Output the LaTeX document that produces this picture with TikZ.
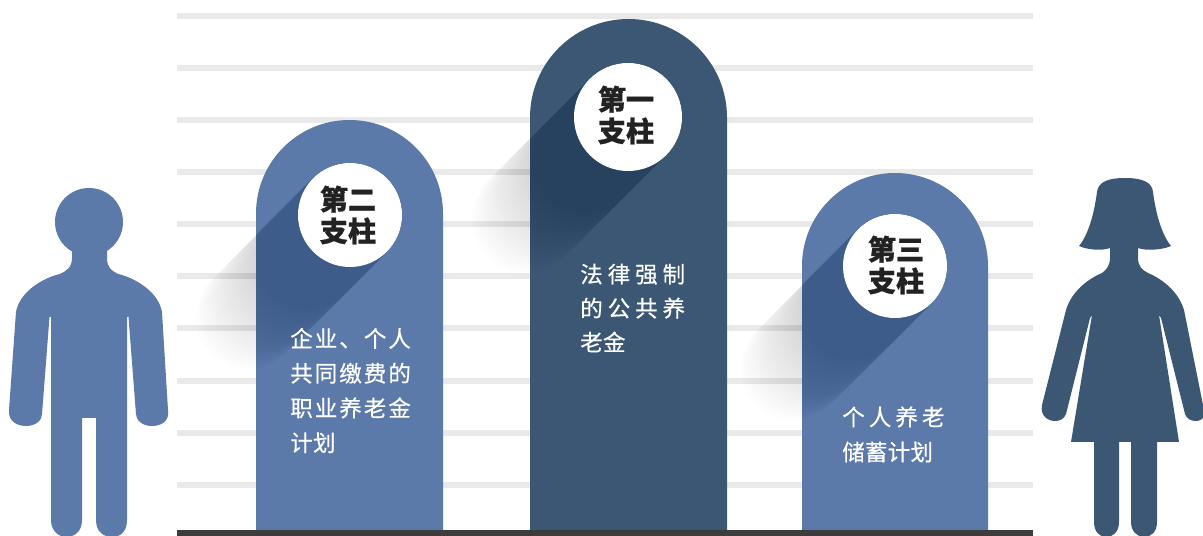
\documentclass[tikz,border=0pt]{standalone}
\usepackage{fontspec}
\setmainfont{Noto Sans CJK SC}[BoldFeatures={FakeBold=0.8}]
\newfontfamily\cjkmid[LetterSpace=9,FakeBold=0.5]{Noto Sans CJK SC}
\newfontfamily\cjkwide[LetterSpace=22,FakeBold=0.5]{Noto Sans CJK SC}
\newfontfamily\cjkwider[LetterSpace=18,FakeBold=0.5]{Noto Sans CJK SC}
\newfontfamily\cjknarrow[LetterSpace=1,FakeBold=0.5]{Noto Sans CJK SC}
\definecolor{barblue}{HTML}{5B79A9}
\definecolor{bardark}{HTML}{3B5773}
\definecolor{ruleline}{HTML}{E9E9E9}
\definecolor{groundline}{HTML}{3C3C3C}
\definecolor{headink}{HTML}{222222}
\definecolor{shadeink}{HTML}{0D2A55}
\tikzset{
  ruled/.style={ruleline, line width=4.6pt},
  titletext/.style={text=headink, align=center, inner sep=0pt, font=\fontsize{20}{22.5}\selectfont\bfseries},
  bodytext/.style={text=white, align=left, anchor=west, inner sep=0pt},
  disc/.style={fill=white},
  softshade/.style={line cap=round, shadeink, opacity=0.016},
}
% pillar outline: centre x, centre y of the arch, radius
\newcommand{\pillarpath}[3]{(#1-#3,536) -- (#1-#3,#2) arc[start angle=180, end angle=360, radius=#3] -- (#1+#3,536) -- cycle}
\begin{document}
\begin{tikzpicture}[x=0.025cm, y=-0.025cm]
  \useasboundingbox (0,0) rectangle (1203,536);
  \fill[white] (0,0) rectangle (1203,536);
  % rules
  \foreach \ypos in {16,68,120,172,224,276,328,381,433,485}
    \draw[ruled] (177,\ypos) -- (1033,\ypos);
  % long shadows under the pillars
  \foreach \cx/\cy/\rad in {350/215/52, 628/117/54, 895/266/52}
    \foreach \len in {42,45,...,104}
      \draw[black, opacity=0.009, line cap=round, line width=\rad*1.4226pt]
        (\cx,\cy) -- ++(-\len,\len);
  % pillars
  \fill[barblue] \pillarpath{349.5}{213.5}{93.5};
  \fill[bardark] \pillarpath{628.5}{117.5}{98.5};
  \fill[barblue] \pillarpath{895}{266}{93};
  \begin{scope}
    \clip \pillarpath{349.5}{213.5}{93.5};
    \foreach \len in {42,45,...,102}
      \draw[softshade, line width=52*1.4226pt] (350,215) -- ++(-\len,\len);
  \end{scope}
  \begin{scope}
    \clip \pillarpath{628.5}{117.5}{98.5};
    \foreach \len in {42,45,...,102}
      \draw[softshade, line width=54*1.4226pt] (628,117) -- ++(-\len,\len);
  \end{scope}
  \begin{scope}
    \clip \pillarpath{895}{266}{93};
    \foreach \len in {42,45,...,102}
      \draw[softshade, line width=52*1.4226pt] (895,266) -- ++(-\len,\len);
  \end{scope}
  % ground line
  \fill[groundline] (177,530) rectangle (1033,536);
  % discs
  \fill[disc] (350,215) circle[radius=52];
  \fill[disc] (628,117) circle[radius=54];
  \fill[disc] (895,266) circle[radius=52];
  \node (titletwo) [titletext] at (348,215) {第二\\支柱};
  \node (titleone) [titletext] at (626,115) {第一\\支柱};
  \node (titlethree) [titletext] at (896,265) {第三\\支柱};
  \node (texttwo) [bodytext, font=\fontsize{16}{24.7}\cjkmid] at (290,390.5) {企业、个人\\共同缴费的\\职业养老金\\{\cjknarrow 计划}};
  \node (textone) [bodytext, font=\fontsize{16}{24.2}\cjkwide] at (580,308) {法律强制\\的公共养\\{\cjknarrow 老金}};
  \node (textthreea) [bodytext, font=\fontsize{16}{24}\cjkwider] at (842,417) {个人养老};
  \node (textthreeb) [bodytext, font=\fontsize{16}{24}\cjknarrow] at (842,452) {储蓄计划};
  % man
  \fill[barblue] (89,222) circle[radius=34];
  \fill[barblue] (72,250) -- (72,258) .. controls (72,268) and (66,271) .. (60,274)
    .. controls (46,277) and (20,290) .. (16,312) -- (9,410)
    .. controls (8,422) and (18,426) .. (26,426) .. controls (36,426) and (42,420) .. (42,414)
    -- (49.5,317) -- (51,317) -- (51,520)
    .. controls (51,532) and (60,537) .. (66,537) .. controls (74,537) and (82,532) .. (82,520)
    -- (82,418) -- (96,418) -- (96,520)
    .. controls (96,532) and (104,537) .. (112,537) .. controls (120,537) and (127,532) .. (127,520)
    -- (127,317) -- (128.5,317) -- (136,414)
    .. controls (136,420) and (142,426) .. (152,426) .. controls (160,426) and (170,422) .. (168,410)
    -- (162,312) .. controls (158,290) and (132,277) .. (118,274)
    .. controls (112,271) and (107,268) .. (107,258) -- (107,250) -- cycle;
  % woman
  \fill[bardark] (1125,178) .. controls (1108,178) and (1098,182) .. (1097,192)
    .. controls (1094,215) and (1088,235) .. (1079,246)
    .. controls (1088,250) and (1102,251) .. (1110,248)
    -- (1110,258) .. controls (1110,266) and (1106,270) .. (1102,273)
    .. controls (1090,278) and (1072,290) .. (1066,310) -- (1042,405)
    .. controls (1040,416) and (1048,421) .. (1055,421) .. controls (1060,421) and (1064,419) .. (1066,414)
    -- (1090,318) -- (1092,315) -- (1071,442) -- (1094,442) -- (1094,522)
    .. controls (1094,532) and (1100,537) .. (1106,537) .. controls (1113,537) and (1119,532) .. (1119,522)
    -- (1119,442) -- (1131,442) -- (1131,522)
    .. controls (1131,532) and (1138,537) .. (1144,537) .. controls (1151,537) and (1157,532) .. (1157,522)
    -- (1157,442) -- (1179,442) -- (1159,315) -- (1161,318) -- (1185,414)
    .. controls (1187,419) and (1191,421) .. (1196,421) .. controls (1200,421) and (1203,419) .. (1205,415)
    -- (1184,310) .. controls (1178,290) and (1160,278) .. (1148,273)
    .. controls (1142,270) and (1138,266) .. (1138,258)
    -- (1138,248) .. controls (1146,251) and (1162,250) .. (1171,246)
    .. controls (1162,235) and (1156,215) .. (1153,192)
    .. controls (1152,182) and (1142,178) .. (1125,178) -- cycle;
\end{tikzpicture}
\end{document}
